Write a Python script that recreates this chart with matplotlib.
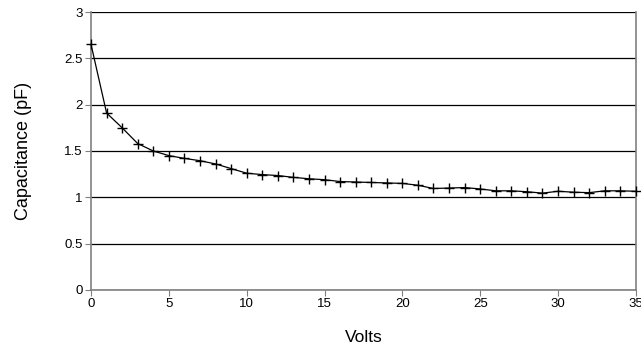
import matplotlib
matplotlib.use("Agg")
import matplotlib.pyplot as plt

plt.rcParams['font.family'] = ['Liberation Sans', 'DejaVu Sans']

volts = list(range(0, 36))
capacitance = [2.65, 1.91, 1.75, 1.58, 1.50, 1.45, 1.42, 1.395, 1.36, 1.31,
               1.26, 1.245, 1.235, 1.215, 1.20, 1.19, 1.17, 1.165, 1.16, 1.155,
               1.15, 1.13, 1.095, 1.10, 1.105, 1.09, 1.07, 1.07, 1.06, 1.045,
               1.065, 1.055, 1.05, 1.07, 1.07, 1.065]

fig = plt.figure(figsize=(6.41, 3.54), dpi=100)
ax = fig.add_axes([0.142, 0.181, 0.850, 0.785])

ax.plot(volts, capacitance, color='black', linewidth=0.9, marker='+',
        markersize=7, markeredgewidth=1.0, clip_on=False, zorder=3)

ax.set_xlim(0, 35)
ax.set_ylim(0, 3)
ax.set_xticks(range(0, 36, 5))
ax.set_yticks([0, 0.5, 1, 1.5, 2, 2.5, 3])
ax.set_yticklabels(['0', '0.5', '1', '1.5', '2', '2.5', '3'])

ax.grid(axis='y', color='black', linewidth=0.9)
ax.set_axisbelow(True)
for side in ['left', 'bottom', 'right']:
    ax.spines[side].set_color('#808080')
    ax.spines[side].set_linewidth(1.2)
ax.spines['top'].set_visible(False)

ax.tick_params(axis='both', direction='out', length=4, color='#808080',
               labelsize=9.5, pad=2)

ax.set_xlabel('Volts', fontsize=12.5, labelpad=14)
ax.set_ylabel('Capacitance (pF)', fontsize=13, labelpad=23)

fig.savefig('out.png', dpi=100)
